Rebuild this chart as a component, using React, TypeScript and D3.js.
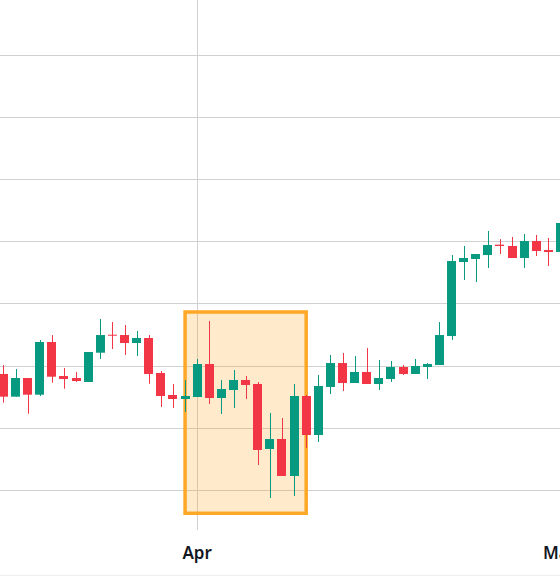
import React from 'react';
import * as d3 from 'd3';

// daily candles, 16 Mar -> 1 May
const startDay = new Date(Date.UTC(2023, 2, 16));
const opens = [118.73, 115.08, 118.08, 115.40, 123.87, 118.40, 118.08, 117.44, 122.15, 125.04, 124.99, 123.71, 124.51, 118.89, 115.35, 114.71,
  115.03, 120.33, 114.87, 116.15, 117.76, 117.12, 106.67, 108.28, 102.33, 115.19, 108.92, 116.64, 120.49, 117.28, 119.05, 117.12,
  117.92, 119.85, 118.73, 119.85, 120.17, 124.83, 136.73, 137.21, 137.85, 139.51, 139.30, 137.37, 140.10, 138.66, 138.33];
const highs = [120.17, 119.53, 118.08, 124.19, 124.99, 119.69, 119.05, 122.26, 127.57, 127.08, 126.60, 125.64, 124.99, 119.21, 117.12, 117.76,
  121.14, 127.24, 117.76, 119.37, 118.40, 117.44, 112.46, 111.65, 117.12, 115.35, 118.56, 121.78, 122.10, 121.62, 122.90, 120.98,
  120.82, 120.17, 121.14, 120.49, 127.08, 137.85, 139.30, 138.01, 141.71, 140.42, 140.75, 141.23, 141.07, 140.59, 143.00];
const lows = [114.11, 115.08, 112.34, 115.19, 117.33, 116.36, 117.44, 117.44, 121.14, 122.74, 121.78, 121.62, 117.17, 113.42, 113.26, 112.62,
  115.03, 113.90, 112.30, 113.26, 114.71, 104.10, 98.79, 102.33, 99.12, 106.83, 107.80, 115.51, 115.99, 117.28, 117.12, 116.15,
  117.44, 118.56, 118.73, 117.92, 120.17, 124.19, 133.83, 133.51, 135.76, 138.01, 137.37, 135.76, 137.69, 136.09, 138.33];
const closes = [115.08, 118.08, 115.40, 123.87, 118.29, 117.92, 117.60, 122.26, 124.99, 124.88, 123.71, 124.51, 118.73, 115.19, 114.71, 115.19,
  120.33, 114.87, 116.31, 117.76, 116.96, 106.51, 108.28, 102.33, 115.19, 108.92, 116.80, 120.49, 117.28, 119.05, 117.12, 118.08,
  119.85, 118.73, 120.01, 120.33, 124.99, 136.89, 137.37, 138.01, 139.46, 139.30, 137.37, 140.10, 138.50, 138.33, 143.00];
const priceTicks = [100, 110, 120, 130, 140, 150, 160, 170, 180];
const monthTicks = [new Date(Date.UTC(2023, 3, 1)), new Date(Date.UTC(2023, 4, 1))];

// highlighted box: 31 Mar -> 10 Apr
const boxFrom = new Date(Date.UTC(2023, 2, 31));
const boxTo = new Date(Date.UTC(2023, 3, 10));
const boxTop = 128.69;
const boxBottom = 96.34;

const candles = opens.map((o, i) => ({
  date: d3.utcDay.offset(startDay, i),
  open: o, high: highs[i], low: lows[i], close: closes[i],
}));

const width = 560;
const height = 576;
const plotBottom = 530;
const up = '#089981';
const down = '#f23645';

const App = () => {
  const x = d3.scaleUtc()
    .domain([startDay, monthTicks[1]])
    .range([3.4, 560.5]);
  const y = d3.scaleLinear()
    .domain([100, 170])
    .range([490.5, 55]);
  const bodyW = 9;
  const crisp = (v: number) => Math.round(v - 0.5) + 0.5;

  const bx0 = x(boxFrom);
  const bx1 = x(boxTo);
  const by0 = y(boxTop);
  const by1 = y(boxBottom);

  return (
    <svg width={width} height={height}
      style={{ position: 'absolute', left: 0, top: 0, display: 'block', background: '#fff' }}>
      <g>
        {priceTicks.map(t => (
          <line key={t} x1={0} x2={width} y1={crisp(y(t))} y2={crisp(y(t))} stroke="#d1d1d1" strokeWidth={1} />
        ))}
        {monthTicks.map(t => (
          <line key={+t} x1={crisp(x(t))} x2={crisp(x(t))} y1={0} y2={plotBottom} stroke="#d1d1d1" strokeWidth={1} />
        ))}
      </g>
      <rect x={bx0} y={by0} width={bx1 - bx0} height={by1 - by0}
        fill="rgba(255,152,0,0.2)" stroke="#ffa726" strokeWidth={3.5} />
      <g>
        {candles.map(c => {
          const cx = x(c.date);
          const col = c.close >= c.open ? up : down;
          const top = y(Math.max(c.open, c.close));
          const bot = y(Math.min(c.open, c.close));
          return (
            <g key={+c.date}>
              <line x1={Math.round(cx) + 0.5} x2={Math.round(cx) + 0.5} y1={y(c.high)} y2={y(c.low)} stroke={col} strokeWidth={1} />
              <rect x={Math.round(cx - bodyW / 2)} y={top} width={bodyW} height={Math.max(1, bot - top)} fill={col} />
            </g>
          );
        })}
      </g>
      <g fontFamily="'Noto Sans', sans-serif" fontSize={17} fontWeight={600} fill="#131722">
        {monthTicks.map(t => (
          <text key={+t} x={x(t)} y={559} textAnchor="middle">{d3.utcFormat('%b')(t)}</text>
        ))}
      </g>
      <line x1={0} x2={width} y1={575.5} y2={575.5} stroke="#eeeeee" strokeWidth={1} />
    </svg>
  );
};

export default App;
